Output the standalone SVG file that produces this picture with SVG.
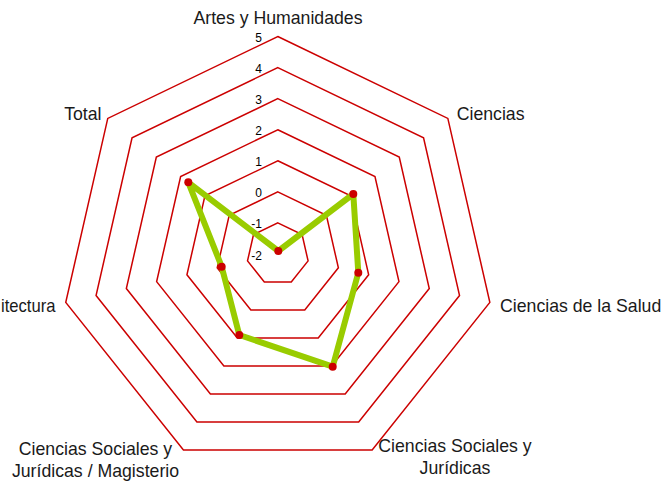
<svg xmlns="http://www.w3.org/2000/svg" width="665" height="481" viewBox="0 0 665 481">
<style>
.grid{fill:none;stroke:#CC0000;stroke-width:1.5;stroke-linejoin:miter}
.lvl{font-family:"Liberation Sans",Arial,sans-serif;font-size:12px;fill:#000;text-anchor:end}
.cat{font-family:"Liberation Sans",Arial,sans-serif;font-size:17.7px;fill:#1a1a1a}
.series{fill:none;stroke:#99CC00;stroke-width:6;stroke-linejoin:round}
.pt{fill:#CC0000}
</style>
<rect width="665" height="481" fill="#fff"/>
<g id="grid">
<polygon class="grid" points="277.8,222.93 302.09,234.63 308.09,260.91 291.28,281.99 264.32,281.99 247.51,260.91 253.51,234.63"/>
<polygon class="grid" points="277.8,191.86 326.38,215.26 338.38,267.83 304.76,309.99 250.84,309.99 217.22,267.83 229.22,215.26"/>
<polygon class="grid" points="277.8,160.79 350.67,195.88 368.67,274.74 318.24,337.98 237.36,337.98 186.93,274.74 204.93,195.88"/>
<polygon class="grid" points="277.8,129.72 374.97,176.51 398.96,281.65 331.72,365.97 223.88,365.97 156.64,281.65 180.63,176.51"/>
<polygon class="grid" points="277.8,98.65 399.26,157.14 429.26,288.57 345.2,393.97 210.4,393.97 126.34,288.57 156.34,157.14"/>
<polygon class="grid" points="277.8,67.58 423.55,137.77 459.54,295.48 358.68,421.96 196.92,421.96 96.06,295.48 132.05,137.77"/>
<polygon class="grid" points="277.8,36.51 447.84,118.4 489.84,302.4 372.16,449.95 183.44,449.95 65.76,302.4 107.76,118.4"/>
</g>
<g id="levels">
<text class="lvl" x="262" y="42">5</text>
<text class="lvl" x="262" y="73.1">4</text>
<text class="lvl" x="262" y="104.2">3</text>
<text class="lvl" x="262" y="135.2">2</text>
<text class="lvl" x="262" y="166.3">1</text>
<text class="lvl" x="262" y="197.4">0</text>
<text class="lvl" x="262" y="228.4">-1</text>
<text class="lvl" x="262" y="259.5">-2</text>
</g>
<g id="categories">
<g id="cat-artes"><text class="cat" x="278" y="23.5" text-anchor="middle">Artes y Humanidades</text></g>
<g id="cat-ciencias"><text class="cat" x="456.7" y="120">Ciencias</text></g>
<g id="cat-salud"><text class="cat" x="500" y="311.5">Ciencias de la Salud</text></g>
<g id="cat-ccssjj"><text class="cat" text-anchor="middle"><tspan x="455" y="451.5">Ciencias Sociales y</tspan><tspan x="455" y="473.5">Jurídicas</tspan></text></g>
<g id="cat-magisterio"><text class="cat" text-anchor="middle"><tspan x="95.5" y="455">Ciencias Sociales y</tspan><tspan x="95.5" y="476.5">Jurídicas / Magisterio</tspan></text></g>
<g id="cat-arquitectura"><text class="cat" x="1" y="311.5" textLength="54.5" lengthAdjust="spacingAndGlyphs">itectura</text></g>
<g id="cat-total"><text class="cat" x="101.5" y="120" text-anchor="end">Total</text></g>
</g>
<g id="connectors">
<polygon class="series" points="278.3,251 353.3,194 358.3,272.7 332.7,366.7 239.3,335 221.7,266.7 188.3,182.3"/>
</g>
<g id="points">
<circle class="pt" cx="278.3" cy="251" r="4"/>
<circle class="pt" cx="353.3" cy="194" r="4"/>
<circle class="pt" cx="358.3" cy="272.7" r="4"/>
<circle class="pt" cx="332.7" cy="366.7" r="4"/>
<circle class="pt" cx="239.3" cy="335" r="4"/>
<circle class="pt" cx="221.7" cy="266.7" r="4"/>
<circle class="pt" cx="188.3" cy="182.3" r="4"/>
</g>
</svg>
